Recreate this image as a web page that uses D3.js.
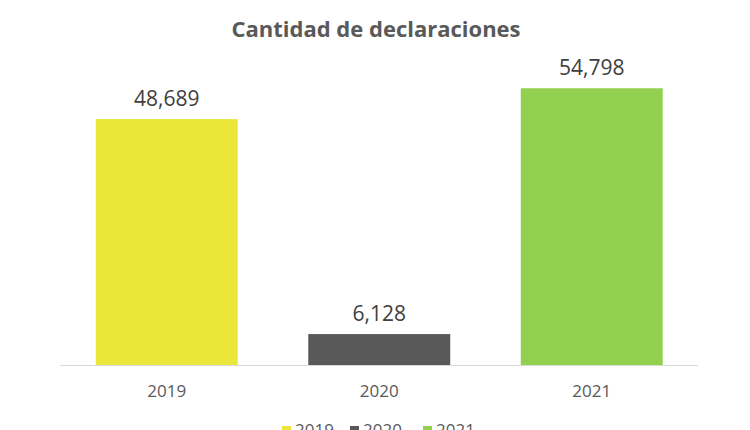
<!DOCTYPE html>
<html>
<head>
<meta charset="utf-8">
<script src="https://cdn.jsdelivr.net/npm/d3@7"></script>
<style>
  body { margin: 0; background: #fff; }
  svg { display: block; }
</style>
</head>
<body>
<svg id="svg" width="750" height="430"></svg>
<script>
// data
var years = ["2019", "2020", "2021"];
var counts = [48689, 6128, 54798];
var colors = ["#EBE63A", "#595959", "#92D050"];

var svg = d3.select("#svg");

var x = d3.scaleBand()
    .domain(years)
    .range([60.5, 698])
    .paddingInner(0.332)
    .paddingOuter(0.166);

var y = d3.scaleLinear()
    .domain([0, 60000])
    .range([365, 62]);

// title
svg.append("text")
    .attr("x", 376)
    .attr("y", 37)
    .attr("text-anchor", "middle")
    .attr("font-family", "Open Sans")
    .attr("font-weight", "bold")
    .attr("font-size", "22px")
    .attr("fill", "#595959")
    .text("Cantidad  de declaraciones");

// bars
svg.selectAll("rect.bar")
    .data(years)
    .enter().append("rect")
    .attr("class", "bar")
    .attr("x", function(d) { return x(d); })
    .attr("width", x.bandwidth())
    .attr("y", function(d, i) { return y(counts[i]); })
    .attr("height", function(d, i) { return y(0) - y(counts[i]); })
    .attr("fill", function(d, i) { return colors[i]; });

// value labels
svg.selectAll("text.val")
    .data(years)
    .enter().append("text")
    .attr("class", "val")
    .attr("x", function(d) { return x(d) + x.bandwidth() / 2; })
    .attr("y", function(d, i) { return y(counts[i]) - 13; })
    .attr("text-anchor", "middle")
    .attr("font-family", "Open Sans")
    .attr("font-size", "21px")
    .attr("fill", "#404040")
    .text(function(d, i) { return d3.format(",")(counts[i]); });

// x axis
var xAxis = svg.append("g")
    .attr("transform", "translate(0," + y(0) + ")")
    .call(d3.axisBottom(x).tickSize(0).tickPadding(20));
xAxis.select(".domain").attr("stroke", "#d9d9d9").attr("d", "M60,0.5H698");
xAxis.selectAll("text")
    .attr("font-family", "Open Sans")
    .attr("font-size", "17px")
    .attr("fill", "#595959");

// legend (cut off at the bottom edge, as in the original)
var legendX = [282, 350, 423];
var legend = svg.selectAll("g.leg")
    .data(years)
    .enter().append("g")
    .attr("class", "leg")
    .attr("transform", function(d, i) { return "translate(" + legendX[i] + ",0)"; });
legend.append("rect")
    .attr("x", 0)
    .attr("y", 426)
    .attr("width", 9)
    .attr("height", 9)
    .attr("fill", function(d, i) { return colors[i]; });
legend.append("text")
    .attr("x", 13)
    .attr("y", 436)
    .attr("font-family", "Open Sans")
    .attr("font-size", "17px")
    .attr("fill", "#595959")
    .text(function(d) { return d; });
</script>
</body>
</html>
